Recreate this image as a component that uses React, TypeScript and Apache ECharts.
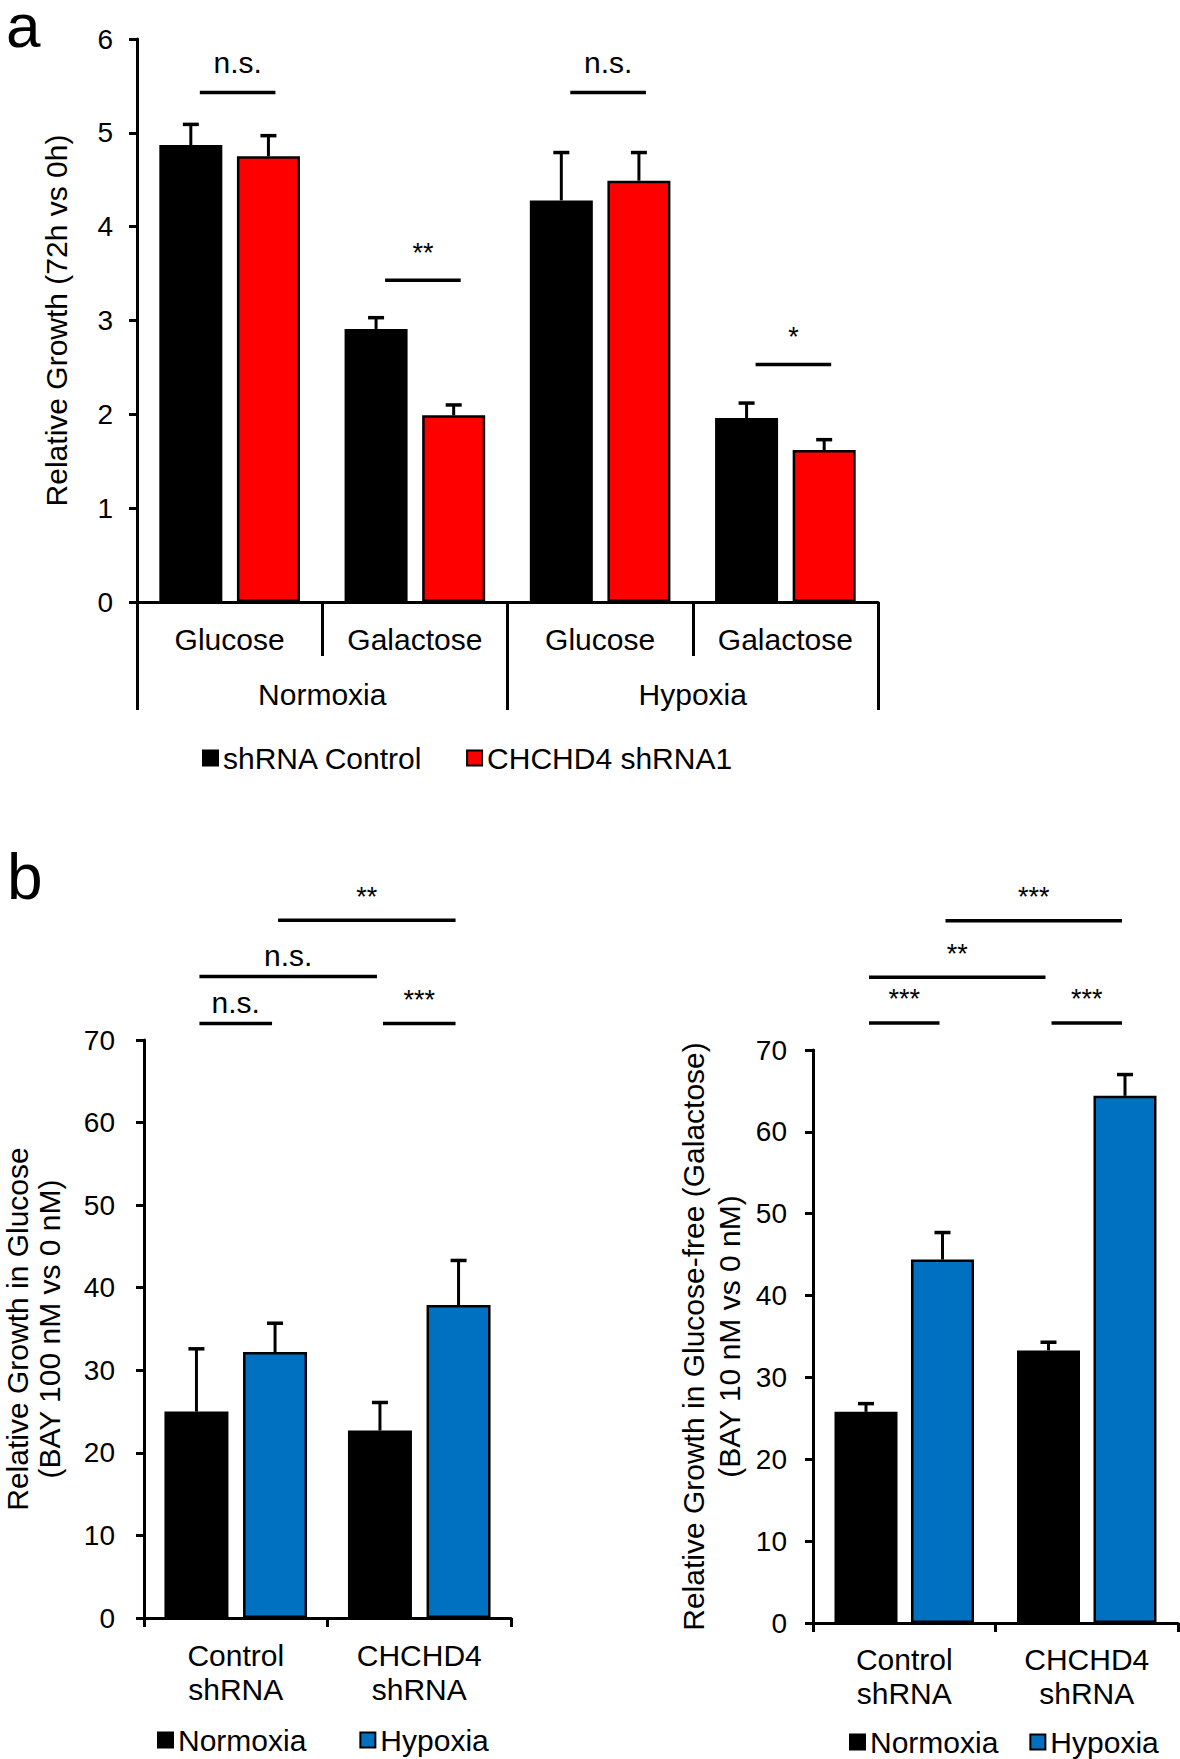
import React, { useEffect, useRef } from "react";
import * as echarts from "echarts";

const FONT = '"Liberation Sans", Arial, Helvetica, sans-serif';

// ---------- Panel a ----------
const aCategories = ["Glucose", "Galactose", "Glucose", "Galactose"];
const aGroups = ["Normoxia", "Hypoxia"];
const aSeriesNames = ["shRNA Control", "CHCHD4 shRNA1"];
const aControl = [4.87, 2.91, 4.28, 1.96];
const aControlErr = [0.22, 0.12, 0.51, 0.16];
const aShrna1 = [4.75, 1.99, 4.49, 1.62];
const aShrna1Err = [0.22, 0.11, 0.3, 0.11];
const aSigFrom = [[0, 0], [1, 0], [2, 0], [3, 0]];
const aSigTo = [[0, 1], [1, 1], [2, 1], [3, 1]];
const aSigY = [5.43, 3.43, 5.43, 2.53];
const aSigLabel = ["n.s.", "**", "n.s.", "*"];

// ---------- Panel b ----------
const bCategories = ["Control\nshRNA", "CHCHD4\nshRNA"];
const bSeriesNames = ["Normoxia", "Hypoxia"];
// Glucose (BAY 100 nM)
const bGluNormoxia = [25.0, 22.7];
const bGluNormoxiaErr = [7.6, 3.4];
const bGluHypoxia = [32.2, 37.9];
const bGluHypoxiaErr = [3.5, 5.4];
const bGluSigFrom = [[0, 0], [0, 0], [1, 0], [0, 1]];
const bGluSigTo = [[0, 1], [1, 0], [1, 1], [1, 1]];
const bGluSigY = [72.0, 77.7, 72.0, 84.5];
const bGluSigLabel = ["n.s.", "n.s.", "***", "**"];
// Galactose (BAY 10 nM)
const bGalNormoxia = [25.8, 33.3];
const bGalNormoxiaErr = [1.0, 1.0];
const bGalHypoxia = [44.4, 64.4];
const bGalHypoxiaErr = [3.3, 2.6];
const bGalSigFrom = [[0, 0], [0, 0], [1, 0], [0, 1]];
const bGalSigTo = [[0, 1], [1, 0], [1, 1], [1, 1]];
const bGalSigY = [73.3, 78.9, 73.3, 85.8];
const bGalSigLabel = ["***", "**", "***", "***"];

const RED = "#FF0000";
const BLUE = "#0070C0";
const BLACK = "#000000";

function errSeries(xIdx: number, yIdx: number, values: number[], errs: number[], dx: number) {
  return {
    type: "custom",
    xAxisIndex: xIdx,
    yAxisIndex: yIdx,
    clip: false,
    silent: true,
    z: 5,
    data: values.map((v, i) => [i, v, v + errs[i]]),
    renderItem: (params: any, api: any) => {
      const base = api.coord([api.value(0), api.value(1)]);
      const top = api.coord([api.value(0), api.value(2)]);
      const x = base[0] + dx;
      return {
        type: "group",
        children: [
          { type: "line", shape: { x1: x, y1: base[1], x2: x, y2: top[1] }, style: { stroke: BLACK, lineWidth: 3 } },
          { type: "line", shape: { x1: x - 8, y1: top[1], x2: x + 8, y2: top[1] }, style: { stroke: BLACK, lineWidth: 3.5 } },
        ],
      };
    },
  };
}

function sigSeries(
  xIdx: number,
  yIdx: number,
  from: number[][],
  to: number[][],
  ys: number[],
  labels: string[],
  offset: number,
  startShift: number,
  endShift: number,
  gapText: number,
  gapStar: number
) {
  return {
    type: "custom",
    xAxisIndex: xIdx,
    yAxisIndex: yIdx,
    clip: false,
    silent: true,
    z: 10,
    data: ys.map((y, i) => [i, y]),
    renderItem: (params: any, api: any) => {
      const i = params.dataIndex;
      const p1 = api.coord([from[i][0], ys[i]]);
      const p2 = api.coord([to[i][0], ys[i]]);
      const x1 = p1[0] + (from[i][1] === 0 ? -offset : offset) + startShift;
      const x2 = p2[0] + (to[i][1] === 0 ? -offset : offset) + endShift;
      const isStar = labels[i].indexOf("*") >= 0;
      return {
        type: "group",
        children: [
          { type: "line", shape: { x1, y1: p1[1], x2, y2: p1[1] }, style: { stroke: BLACK, lineWidth: 3.5 } },
          {
            type: "text",
            x: (x1 + x2) / 2,
            y: p1[1] - (isStar ? gapStar : gapText),
            style: {
              text: labels[i],
              fontFamily: FONT,
              fontSize: isStar ? 27 : 30,
              fill: BLACK,
              align: "center",
              verticalAlign: "bottom",
            },
          },
        ],
      };
    },
  };
}

export default function App() {
  const ref = useRef<HTMLDivElement>(null);

  useEffect(() => {
    if (!ref.current) return;
    const chart = echarts.init(ref.current, null, { renderer: "svg" });

    const axisLine = { show: true, lineStyle: { color: BLACK, width: 3 } };
    const tickLabel = { color: BLACK, fontFamily: FONT, fontSize: 28, margin: 24 };
    const catLabel = { color: BLACK, fontFamily: FONT, fontSize: 30, lineHeight: 34, interval: 0 };
    const nameStyle = { color: BLACK, fontFamily: FONT, fontSize: 30 };

    // bar geometry (pixels)
    const aBarW = 63, aGap = 14.6;
    const blBarW = 64, blGap = 14.6;
    const brBarW = 63, brGap = 13.5;
    const aOff = (aBarW + aGap) / 2;
    const blOff = (blBarW + blGap) / 2;
    const brOff = (brBarW + brGap) / 2;

    const option: any = {
      animation: false,
      backgroundColor: "#ffffff",
      textStyle: { fontFamily: FONT },
      grid: [
        { left: 137, top: 39, width: 741, height: 563 },
        { left: 137, top: 1040, width: 374, height: 578 },
        { left: 813, top: 1050, width: 365, height: 573 },
      ],
      xAxis: [
        {
          type: "category",
          gridIndex: 0,
          data: aCategories,
          position: "bottom",
          axisLine,
          axisTick: { show: true, interval: 0, length: 54, lineStyle: { color: BLACK, width: 3 } },
          axisLabel: { ...catLabel, margin: 20 },
        },
        {
          type: "category",
          gridIndex: 0,
          data: aGroups,
          position: "bottom",
          offset: 0,
          axisLine: { show: false },
          axisTick: { show: true, interval: 0, length: 108, lineStyle: { color: BLACK, width: 3 } },
          axisLabel: { ...catLabel, margin: 75 },
        },
        {
          type: "category",
          gridIndex: 1,
          data: bCategories,
          axisLine,
          axisTick: { show: true, interval: 0, length: 9, lineStyle: { color: BLACK, width: 3 } },
          axisLabel: { ...catLabel, margin: 20 },
        },
        {
          type: "category",
          gridIndex: 2,
          data: bCategories,
          axisLine,
          axisTick: { show: true, interval: 0, length: 9, lineStyle: { color: BLACK, width: 3 } },
          axisLabel: { ...catLabel, margin: 19 },
        },
      ],
      yAxis: [
        {
          type: "value",
          gridIndex: 0,
          min: 0,
          max: 6,
          interval: 1,
          name: "Relative Growth (72h vs 0h)",
          nameLocation: "middle",
          nameRotate: 90,
          nameGap: 66,
          nameTextStyle: nameStyle,
          axisLine,
          axisTick: { show: true, length: 8, lineStyle: { color: BLACK, width: 3 } },
          axisLabel: tickLabel,
          splitLine: { show: false },
        },
        {
          type: "value",
          gridIndex: 1,
          min: 0,
          max: 70,
          interval: 10,
          name: "Relative Growth in Glucose\n(BAY 100 nM vs 0 nM)",
          nameLocation: "middle",
          nameRotate: 90,
          nameGap: 79,
          nameTextStyle: { ...nameStyle, lineHeight: 32 },
          axisLine,
          axisTick: { show: true, length: 8, lineStyle: { color: BLACK, width: 3 } },
          axisLabel: { ...tickLabel, margin: 29 },
          splitLine: { show: false },
        },
        {
          type: "value",
          gridIndex: 2,
          min: 0,
          max: 70,
          interval: 10,
          name: "Relative Growth in Glucose-free (Galactose)\n(BAY 10 nM vs 0 nM)",
          nameLocation: "middle",
          nameRotate: 90,
          nameGap: 66,
          nameTextStyle: { ...nameStyle, lineHeight: 36 },
          axisLine,
          axisTick: { show: true, length: 8, lineStyle: { color: BLACK, width: 3 } },
          axisLabel: { ...tickLabel, margin: 26 },
          splitLine: { show: false },
        },
      ],
      legend: [
        {
          data: aSeriesNames,
          left: 202,
          top: 743,
          padding: 0,
          itemWidth: 15,
          itemHeight: 15,
          itemGap: 43,
          icon: "rect",
          selectedMode: false,
          textStyle: { color: BLACK, fontFamily: FONT, fontSize: 30, lineHeight: 30 },
        },
        {
          data: bSeriesNames,
          left: 157,
          top: 1725,
          padding: 0,
          itemWidth: 15,
          itemHeight: 15,
          itemGap: 53,
          icon: "rect",
          selectedMode: false,
          textStyle: { color: BLACK, fontFamily: FONT, fontSize: 30, lineHeight: 30 },
        },
        {
          data: bSeriesNames,
          left: 849,
          top: 1727,
          padding: 0,
          itemWidth: 15,
          itemHeight: 15,
          itemGap: 31,
          icon: "rect",
          selectedMode: false,
          textStyle: { color: BLACK, fontFamily: FONT, fontSize: 30, lineHeight: 30 },
        },
      ],
      graphic: [
        { type: "text", left: 6, top: -6, style: { text: "a", fontFamily: FONT, fontSize: 62, fill: BLACK } },
        { type: "text", left: 7, top: 845, style: { text: "b", fontFamily: FONT, fontSize: 64, fill: BLACK } },
      ],
      series: [
        // Panel a
        {
          name: aSeriesNames[0],
          type: "bar",
          xAxisIndex: 0,
          yAxisIndex: 0,
          data: aControl,
          barWidth: aBarW,
          barGap: `${(aGap / aBarW) * 100}%`,
          itemStyle: { color: BLACK, borderColor: BLACK, borderWidth: 2.5 },
        },
        {
          name: aSeriesNames[1],
          type: "bar",
          xAxisIndex: 0,
          yAxisIndex: 0,
          data: aShrna1,
          barWidth: aBarW,
          barGap: `${(aGap / aBarW) * 100}%`,
          itemStyle: { color: RED, borderColor: BLACK, borderWidth: 2.5 },
        },
        errSeries(0, 0, aControl, aControlErr, -aOff),
        errSeries(0, 0, aShrna1, aShrna1Err, aOff),
        sigSeries(0, 0, aSigFrom, aSigTo, aSigY, aSigLabel, aOff, 9, 7, 15, 14),
        // Panel b left
        {
          name: bSeriesNames[0],
          type: "bar",
          xAxisIndex: 2,
          yAxisIndex: 1,
          data: bGluNormoxia,
          barWidth: blBarW,
          barGap: `${(blGap / blBarW) * 100}%`,
          itemStyle: { color: BLACK, borderColor: BLACK, borderWidth: 2.5 },
        },
        {
          name: bSeriesNames[1],
          type: "bar",
          xAxisIndex: 2,
          yAxisIndex: 1,
          data: bGluHypoxia,
          barWidth: blBarW,
          barGap: `${(blGap / blBarW) * 100}%`,
          itemStyle: { color: BLUE, borderColor: BLACK, borderWidth: 2.5 },
        },
        errSeries(2, 1, bGluNormoxia, bGluNormoxiaErr, -blOff),
        errSeries(2, 1, bGluHypoxia, bGluHypoxiaErr, blOff),
        sigSeries(2, 1, bGluSigFrom, bGluSigTo, bGluSigY, bGluSigLabel, blOff, 3, -3, 6, 10),
        // Panel b right
        {
          name: bSeriesNames[0],
          type: "bar",
          xAxisIndex: 3,
          yAxisIndex: 2,
          data: bGalNormoxia,
          barWidth: brBarW,
          barGap: `${(brGap / brBarW) * 100}%`,
          itemStyle: { color: BLACK, borderColor: BLACK, borderWidth: 2.5 },
        },
        {
          name: bSeriesNames[1],
          type: "bar",
          xAxisIndex: 3,
          yAxisIndex: 2,
          data: bGalHypoxia,
          barWidth: brBarW,
          barGap: `${(brGap / brBarW) * 100}%`,
          itemStyle: { color: BLUE, borderColor: BLACK, borderWidth: 2.5 },
        },
        errSeries(3, 2, bGalNormoxia, bGalNormoxiaErr, -brOff),
        errSeries(3, 2, bGalHypoxia, bGalHypoxiaErr, brOff),
        sigSeries(3, 2, bGalSigFrom, bGalSigTo, bGalSigY, bGalSigLabel, brOff, 3, -3, 6, 10),
      ],
    };

    chart.setOption(option);
    return () => {
      chart.dispose();
    };
  }, []);

  return (
    <div
      ref={ref}
      style={{ position: "absolute", left: 0, top: 0, width: 1180, height: 1759, background: "#fff" }}
    />
  );
}
